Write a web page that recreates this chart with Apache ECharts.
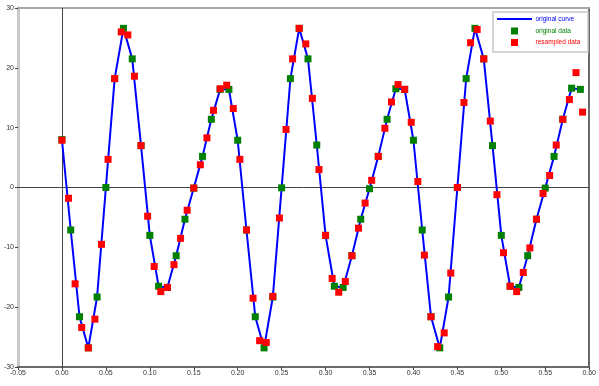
<!DOCTYPE html>
<html>
<head>
<meta charset="utf-8">
<script src="https://cdn.jsdelivr.net/npm/echarts@6/dist/echarts.min.js"></script>
<style>
html,body{margin:0;padding:0;background:#fff;}
#chart{width:599px;height:386px;}
</style>
</head>
<body>
<div id="chart"></div>
<script>
// ---- data ----
const seriesNames = ['original curve', 'original data', 'resampled data'];
const seriesColors = ['#0000ff', '#008000', '#ff0000'];

const origX = [0.00,0.01,0.02,0.03,0.04,0.05,0.06,0.07,0.08,0.09,
  0.10,0.11,0.12,0.13,0.14,0.15,0.16,0.17,0.18,0.19,
  0.20,0.21,0.22,0.23,0.24,0.25,0.26,0.27,0.28,0.29,
  0.30,0.31,0.32,0.33,0.34,0.35,0.36,0.37,0.38,0.39,
  0.40,0.41,0.42,0.43,0.44,0.45,0.46,0.47,0.48,0.49,
  0.50,0.51,0.52,0.53,0.54,0.55,0.56,0.57,0.58,0.59];
const origY = [8.0,-7.1,-21.6,-26.8,-18.3,0.0,18.2,26.6,21.5,7.0,
  -8.0,-16.5,-16.7,-11.4,-5.3,-0.1,5.2,11.4,16.4,16.4,
  7.9,-7.1,-21.6,-26.8,-18.3,-0.05,18.2,26.6,21.5,7.1,
  -8.0,-16.5,-16.7,-11.4,-5.3,-0.2,5.2,11.4,16.5,16.4,
  7.9,-7.1,-21.6,-26.8,-18.3,0.0,18.2,26.6,21.5,7.0,
  -8.0,-16.5,-16.7,-11.4,-5.3,-0.1,5.2,11.4,16.6,16.4];

const resX = [0,0.0075,0.015,0.0225,0.03,0.0375,0.045,0.0525,0.06,0.0675,
  0.075,0.0825,0.09,0.0975,0.105,0.1125,0.12,0.1275,0.135,0.1425,
  0.15,0.1575,0.165,0.1725,0.18,0.1875,0.195,0.2025,0.21,0.2175,
  0.225,0.2325,0.24,0.2475,0.255,0.2625,0.27,0.2775,0.285,0.2925,
  0.30,0.3075,0.315,0.3225,0.33,0.3375,0.345,0.3525,0.36,0.3675,
  0.375,0.3825,0.39,0.3975,0.405,0.4125,0.42,0.4275,0.435,0.4425,
  0.45,0.4575,0.465,0.4725,0.48,0.4875,0.495,0.5025,0.51,0.5175,
  0.525,0.5325,0.54,0.5475,0.555,0.5625,0.57,0.5775,0.585,0.5925];
const resY = [7.9,-1.8,-16.1,-23.4,-26.8,-22.0,-9.5,4.7,18.2,26.0,
  25.5,18.6,7.0,-4.8,-13.2,-17.4,-16.7,-12.9,-8.5,-3.8,
  -0.1,3.8,8.3,12.9,16.5,17.1,13.2,4.7,-7.1,-18.5,
  -25.6,-25.9,-18.2,-5.1,9.7,21.5,26.6,24.0,14.9,3.0,
  -8.0,-15.2,-17.5,-15.7,-11.4,-6.8,-2.6,1.2,5.2,9.9,
  14.3,17.2,16.4,10.9,1.0,-11.3,-21.6,-26.6,-24.3,-14.3,
  0.0,14.2,24.2,26.4,21.5,11.1,-1.2,-10.9,-16.5,-17.4,
  -14.2,-10.1,-5.3,-1.0,2.0,7.1,11.4,14.7,19.2,12.6];

const xTickMin = -0.05, xTickMax = 0.60, xTickStep = 0.05;
const yTickMin = -30, yTickMax = 30, yTickStep = 10;

// ---- chart ----
const origPairs = origX.map((x, i) => [x, origY[i]]);
const resPairs = resX.map((x, i) => [x, resY[i]]);
const FONT = '"Liberation Sans", Arial, sans-serif';

// legend drawn as graphic (box, samples, texts)
const LG = {x: 493, y: 12, w: 95, h: 40, textX: 535.5, rows: [19, 31, 42.5], swX: 497, swW: 35, sq: 7};
const legendGraphic = [
  {type: 'rect', shape: {x: LG.x, y: LG.y, width: LG.w, height: LG.h},
   style: {fill: '#ffffff', stroke: '#c8c8c8', lineWidth: 1.5}, z: 100},
  {type: 'line', shape: {x1: LG.swX, y1: LG.rows[0], x2: LG.swX + LG.swW, y2: LG.rows[0]},
   style: {stroke: seriesColors[0], lineWidth: 2}, z: 101},
  {type: 'rect', shape: {x: LG.swX + LG.swW / 2 - LG.sq / 2, y: LG.rows[1] - LG.sq / 2, width: LG.sq, height: LG.sq},
   style: {fill: seriesColors[1]}, z: 101},
  {type: 'rect', shape: {x: LG.swX + LG.swW / 2 - LG.sq / 2, y: LG.rows[2] - LG.sq / 2, width: LG.sq, height: LG.sq},
   style: {fill: seriesColors[2]}, z: 101}
].concat(seriesNames.map((n, i) => ({
  type: 'text', x: LG.textX, y: LG.rows[i], z: 101,
  style: {text: n, fill: seriesColors[i], font: '6.5px ' + FONT, textVerticalAlign: 'middle', verticalAlign: 'middle'}
})));

const chart = echarts.init(document.getElementById('chart'), null, {renderer: 'canvas'});
chart.setOption({
  animation: false,
  backgroundColor: '#ffffff',
  grid: {left: 18, right: 9, top: 8, bottom: 19, containLabel: false},
  xAxis: [{
    type: 'value', min: xTickMin, max: xTickMax, interval: xTickStep,
    position: 'bottom',
    axisLine: {onZero: false, lineStyle: {color: '#6a6a6a', width: 2}},
    axisTick: {show: true, length: 3, lineStyle: {color: '#444'}},
    axisLabel: {fontSize: 7, color: '#333', margin: 3, fontFamily: FONT,
      formatter: v => v.toFixed(2)},
    splitLine: {show: false}
  }, {
    type: 'value', min: xTickMin, max: xTickMax, position: 'top',
    axisLine: {onZero: false, lineStyle: {color: '#a8a8a8', width: 2}},
    axisTick: {show: false}, axisLabel: {show: false}, splitLine: {show: false}
  }],
  yAxis: [{
    type: 'value', min: yTickMin, max: yTickMax, interval: yTickStep,
    position: 'left',
    axisLine: {onZero: false, lineStyle: {color: '#c8c8c8', width: 3}},
    axisTick: {show: true, length: 3, lineStyle: {color: '#444'}},
    axisLabel: {fontSize: 7, color: '#333', margin: 4, fontFamily: FONT},
    splitLine: {show: false}
  }, {
    type: 'value', min: yTickMin, max: yTickMax, position: 'right',
    axisLine: {onZero: false, lineStyle: {color: '#6a6a6a', width: 2}},
    axisTick: {show: false}, axisLabel: {show: false}, splitLine: {show: false}
  }],
  graphic: legendGraphic,
  series: [{
    name: seriesNames[0], type: 'line', data: origPairs,
    showSymbol: false, symbol: 'none',
    lineStyle: {color: seriesColors[0], width: 2},
    itemStyle: {color: seriesColors[0]},
    z: 2,
    markLine: {
      silent: true, symbol: 'none', label: {show: false},
      lineStyle: {color: '#444', width: 1, type: 'solid'},
      animation: false,
      data: [{xAxis: 0}, {yAxis: 0}],
      z: 1
    }
  }, {
    name: seriesNames[1], type: 'scatter', data: origPairs,
    symbol: 'rect', symbolSize: 7,
    itemStyle: {color: seriesColors[1], opacity: 1},
    z: 3
  }, {
    name: seriesNames[2], type: 'scatter', data: resPairs,
    symbol: 'rect', symbolSize: 7,
    itemStyle: {color: seriesColors[2], opacity: 1},
    z: 4
  }]
});
</script>
</body>
</html>
